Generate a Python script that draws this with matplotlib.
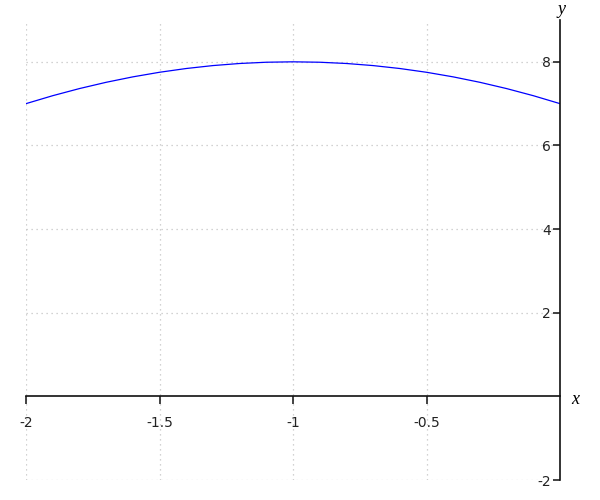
import matplotlib
matplotlib.use("Agg")
import matplotlib.pyplot as plt

plt.rcParams["axes.unicode_minus"] = False

# curve values
x_vals = [-2.0, -1.9, -1.8, -1.7, -1.6, -1.5, -1.4, -1.3, -1.2, -1.1, -1.0,
          -0.9, -0.8, -0.7, -0.6, -0.5, -0.4, -0.3, -0.2, -0.1, 0.0]
y_vals = [7.0, 7.19, 7.36, 7.51, 7.64, 7.75, 7.84, 7.91, 7.96, 7.99, 8.0,
          7.99, 7.96, 7.91, 7.84, 7.75, 7.64, 7.51, 7.36, 7.19, 7.0]

x_ticks = [-2, -1.5, -1, -0.5]
x_tick_labels = ["-2", "-1.5", "-1", "-0.5"]
y_ticks = [-2, 2, 4, 6, 8]
y_tick_labels = ["-2", "2", "4", "6", "8"]

fig = plt.figure(figsize=(6, 5), dpi=100)
ax = fig.add_axes([26 / 600, 20 / 500, (560 - 26) / 600, (480 - 20) / 500])

ax.plot(x_vals, y_vals, color="blue", linewidth=0.9)

ax.set_xlim(-2, 0)
ax.set_ylim(-2, 9)

# axes crossing at the origin
ax.spines["left"].set_position(("data", 0))
ax.spines["bottom"].set_position(("data", 0))
ax.spines["top"].set_visible(False)
ax.spines["right"].set_visible(False)
for s in ("left", "bottom"):
    ax.spines[s].set_linewidth(1.2)
    ax.spines[s].set_color("#111111")

ax.set_xticks(x_ticks)
ax.set_xticklabels(x_tick_labels)
ax.set_yticks(y_ticks)
ax.set_yticklabels(y_tick_labels)
ax.tick_params(axis="x", direction="out", length=6, width=1.2, pad=8,
               labelsize=10, colors="#222222")
ax.tick_params(axis="y", direction="out", length=5, width=1.2, pad=1.5,
               labelsize=10, colors="#222222")

ax.grid(True, linestyle=(0, (1, 3)), color="#c4c4c4", linewidth=0.9)

# axis names, placed in figure pixels from the top-left
fig.text(575 / 600, 1 - 400 / 500, "x", fontsize=13, style="italic",
         family="Liberation Serif", va="center", ha="center")
fig.text(561 / 600, 1 - 1 / 500, "y", fontsize=13, style="italic",
         family="Liberation Serif", va="top", ha="center")

fig.savefig("out.png", dpi=100)
